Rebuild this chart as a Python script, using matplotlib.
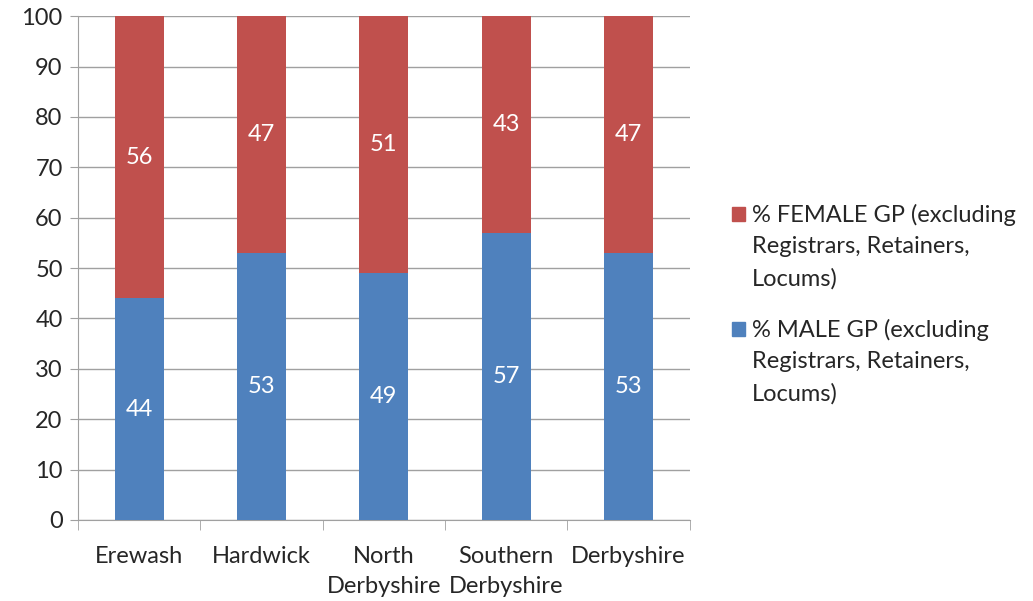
import matplotlib.pyplot as plt
from matplotlib.patches import Rectangle
import numpy as np

plt.rcParams['font.family'] = ['Lato', 'DejaVu Sans']

areas = ['Erewash', 'Hardwick', 'North\nDerbyshire', 'Southern\nDerbyshire', 'Derbyshire']
male = [44, 53, 49, 57, 53]
female = [56, 47, 51, 43, 47]
male_label = '% MALE GP (excluding\nRegistrars, Retainers,\nLocums)'
female_label = '% FEMALE GP (excluding\nRegistrars, Retainers,\nLocums)'

blue = '#4F81BD'
red = '#C0504D'
grey = '#A0A0A0'
txt = '#262626'

fig = plt.figure(figsize=(10.33, 6.01), dpi=100)
ax = fig.add_axes([0.0755, 0.135, 0.592, 0.838])

x = np.arange(len(areas))
ax.bar(x, male, width=0.4, color=blue, zorder=3)
ax.bar(x, female, width=0.4, bottom=male, color=red, zorder=3)

for i in range(len(areas)):
    ax.text(x[i], male[i] / 2, str(male[i]), ha='center', va='center',
            color='white', fontsize=17, zorder=4)
    ax.text(x[i], male[i] + female[i] / 2, str(female[i]), ha='center', va='center',
            color='white', fontsize=17, zorder=4)

ax.set_ylim(0, 100)
ax.set_xlim(-0.5, len(areas) - 0.5)
ax.set_yticks(range(0, 101, 10))
ax.yaxis.grid(True, color=grey, linewidth=1, zorder=0)
ax.tick_params(axis='y', length=6, color=grey, labelsize=17, pad=5, labelcolor=txt)

# category labels centred, tick marks on the boundaries
ax.set_xticks(x)
ax.set_xticklabels(areas, fontsize=17, linespacing=1.5, color=txt)
ax.tick_params(axis='x', length=0, pad=19)
ax.set_xticks(np.arange(-0.5, len(areas)), minor=True)
ax.tick_params(axis='x', which='minor', length=7, color=grey)

for s in ['top', 'right']:
    ax.spines[s].set_visible(False)
for s in ['left', 'bottom']:
    ax.spines[s].set_color(grey)

# legend, square lined up with the first line of each entry
W, H = 1033, 601
for lab, col, ytop in [(female_label, red, 204), (male_label, blue, 319)]:
    fig.patches.append(Rectangle((732 / W, 1 - (ytop + 17) / H), 13 / W, 14 / H,
                                 transform=fig.transFigure, color=col))
    fig.text(752 / W, 1 - ytop / H, lab, ha='left', va='top', fontsize=17,
             linespacing=1.6, color=txt)

fig.savefig('out.png', dpi=100)
